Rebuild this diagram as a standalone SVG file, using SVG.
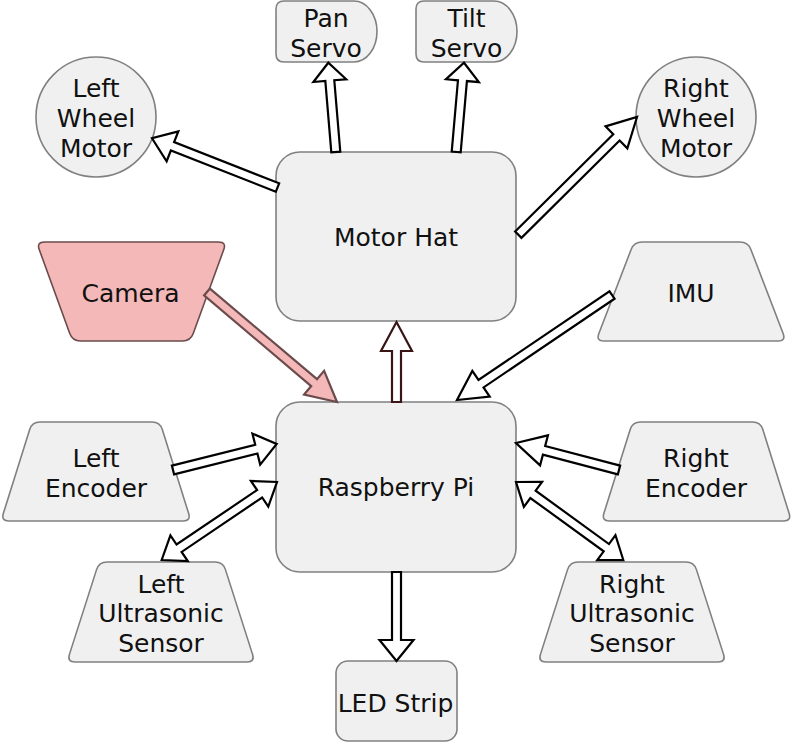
<svg xmlns="http://www.w3.org/2000/svg" width="792" height="742" viewBox="0 0 792 742">
<style>
.n{fill:#f0f0f0;stroke:#808080;stroke-width:1.6}
.cam{fill:#f4b8b8;stroke:#6b4b4b;stroke-width:1.6}
.t{font-family:"DejaVu Sans",Verdana,sans-serif;font-size:25px;fill:#111;text-anchor:middle}
.a{fill:#fff;stroke:#000;stroke-width:2.2;stroke-linejoin:miter}
.ap{fill:#f4b8b8;stroke:#6b4b4b;stroke-width:2.2}
.ad{fill:#fff;stroke:#3a1515;stroke-width:2.2}
</style>
<rect width="792" height="742" fill="#fff"/>
<g id="motor-hat"><rect class="n" x="276" y="152" width="240" height="169" rx="24"/><text class="t" x="396" y="246">Motor Hat</text></g>
<g id="raspberry-pi"><rect class="n" x="276" y="402" width="240" height="170" rx="24"/><text class="t" x="396" y="496">Raspberry Pi</text></g>
<g id="left-wheel-motor"><circle class="n" cx="96" cy="117" r="60"/><text class="t" x="96" y="97">Left</text><text class="t" x="96" y="127">Wheel</text><text class="t" x="96" y="157">Motor</text></g>
<g id="right-wheel-motor"><circle class="n" cx="696" cy="117" r="60"/><text class="t" x="696" y="97">Right</text><text class="t" x="696" y="127">Wheel</text><text class="t" x="696" y="157">Motor</text></g>
<g id="pan-servo"><path class="n" d="M284,1 H354 A23,30.5 0 0 1 354,62 H284 Q276,62 276,54 V9 Q276,1 284,1 Z"/><text class="t" x="326" y="27">Pan</text><text class="t" x="326" y="56.5">Servo</text></g>
<g id="tilt-servo"><path class="n" d="M424,1 H494 A23,30.5 0 0 1 494,62 H424 Q416,62 416,54 V9 Q416,1 424,1 Z"/><text class="t" x="466.5" y="27">Tilt</text><text class="t" x="466.5" y="56.5">Servo</text></g>
<g id="camera"><path class="cam" transform="translate(131.5,242)" d="M-87,0 H87 Q95,0 92.27,7.52 L61.73,91.48 Q59,99 51,99 H-51 Q-59,99 -61.73,91.48 L-92.27,7.52 Q-95,0 -87,0 Z"/><text class="t" x="130.5" y="302">Camera</text></g>
<g id="imu"><path class="n" transform="translate(691,242)" d="M-49,0 H49 Q57,0 59.87,7.47 L92.13,91.53 Q95,99 87,99 H-87 Q-95,99 -92.13,91.53 L-59.87,7.47 Q-57,0 -49,0 Z"/><text class="t" x="691" y="302">IMU</text></g>
<g id="left-encoder"><path class="n" transform="translate(96,422)" d="M-56,0 H56 Q64,0 66.39,7.64 L92.61,91.36 Q95,99 87,99 H-87 Q-95,99 -92.61,91.36 L-66.39,7.64 Q-64,0 -56,0 Z"/><text class="t" x="96" y="467">Left</text><text class="t" x="96" y="496.5">Encoder</text></g>
<g id="right-encoder"><path class="n" transform="translate(696.5,422)" d="M-56,0 H56 Q64,0 66.39,7.64 L92.61,91.36 Q95,99 87,99 H-87 Q-95,99 -92.61,91.36 L-66.39,7.64 Q-64,0 -56,0 Z"/><text class="t" x="696" y="467">Right</text><text class="t" x="696" y="496.5">Encoder</text></g>
<g id="left-ultrasonic-sensor"><path class="n" transform="translate(161,562)" d="M-54,0 H54 Q62,0 64.44,7.62 L91.56,92.38 Q94,100 86,100 H-86 Q-94,100 -91.56,92.38 L-64.44,7.62 Q-62,0 -54,0 Z"/><text class="t" x="161" y="592.5">Left</text><text class="t" x="161" y="622">Ultrasonic</text><text class="t" x="161" y="651.5">Sensor</text></g>
<g id="right-ultrasonic-sensor"><path class="n" transform="translate(632,562)" d="M-54,0 H54 Q62,0 64.44,7.62 L91.56,92.38 Q94,100 86,100 H-86 Q-94,100 -91.56,92.38 L-64.44,7.62 Q-62,0 -54,0 Z"/><text class="t" x="632" y="592.5">Right</text><text class="t" x="632" y="622">Ultrasonic</text><text class="t" x="632" y="651.5">Sensor</text></g>
<g id="led-strip"><rect class="n" x="336" y="661" width="121" height="80" rx="12"/><text class="t" x="395.5" y="711.5">LED Strip</text></g>
<g id="connectors">
<path class="a" transform="translate(277.5,187.5) rotate(201.41)" d="M0,-4.5 H112.8 V-16 L134.8,0 L112.8,16 V4.5 H0 Z"/>
<path class="a" transform="translate(335.8,152) rotate(-94.8)" d="M0,-4.5 H71.6 V-16.5 L89.6,0 L71.6,16.5 V4.5 H0 Z"/>
<path class="a" transform="translate(456.2,152) rotate(-85)" d="M0,-4.5 H71.6 V-16.5 L89.6,0 L71.6,16.5 V4.5 H0 Z"/>
<path class="a" transform="translate(518.3,234.7) rotate(-44.76)" d="M0,-4.5 H138.2 V-15.5 L167.2,0 L138.2,15.5 V4.5 H0 Z"/>
<path class="ap" transform="translate(207,292) rotate(40.24)" d="M0,-4.5 H140.3 V-15.5 L170.3,0 L140.3,15.5 V4.5 H0 Z"/>
<path class="ad" transform="translate(396.5,402) rotate(-90)" d="M0,-4.5 H51 V-15.5 L80,0 L51,15.5 V4.5 H0 Z"/>
<path class="a" transform="translate(612,295) rotate(145.89)" d="M0,-4.5 H158.2 V-15.5 L187.2,0 L158.2,15.5 V4.5 H0 Z"/>
<path class="a" transform="translate(173,470) rotate(-14.08)" d="M0,-4.5 H85.9 V-16 L106.9,0 L85.9,16 V4.5 H0 Z"/>
<path class="a" transform="translate(161.7,560) rotate(-34.08)" d="M21,-15.5 L0,0 L21,15.5 V4.5 H118.2 V15.5 L139.2,0 L118.2,-15.5 V-4.5 H21 Z"/>
<path class="a" transform="translate(619,470) rotate(-165.31)" d="M0,-4.5 H77.5 V-15.5 L106.5,0 L77.5,15.5 V4.5 H0 Z"/>
<path class="a" transform="translate(516,482) rotate(36.02)" d="M21,-15.5 L0,0 L21,15.5 V4.5 H111.7 V15.5 L132.7,0 L111.7,-15.5 V-4.5 H21 Z"/>
<path class="a" transform="translate(396.5,572) rotate(90)" d="M0,-4.5 H68 V-17 L89,0 L68,17 V4.5 H0 Z"/>
</g>
</svg>
